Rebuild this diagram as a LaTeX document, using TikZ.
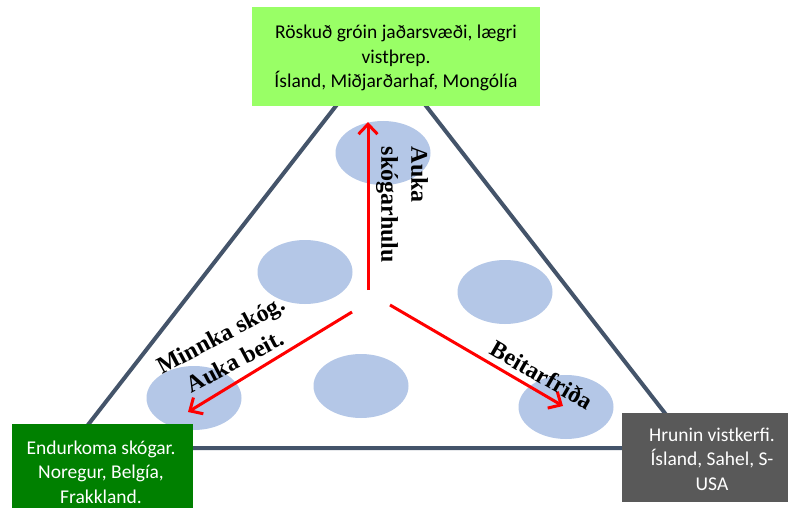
\documentclass[tikz,border=0pt]{standalone}
\usepackage{fontspec}
\setmainfont{Carlito}
\newfontfamily\labfont{Liberation Serif}
\usetikzlibrary{arrows.meta,shapes.geometric}
\definecolor{edgeslate}{HTML}{44546A}
\definecolor{blobblue}{HTML}{B4C7E7}
\definecolor{lightgreen}{HTML}{99FF66}
\definecolor{darkgreen}{HTML}{008000}
\definecolor{darkgray}{HTML}{595959}
\tikzset{
  blob/.style={ellipse, fill=blobblue, draw=none, minimum width=95pt, minimum height=64pt, inner sep=0pt},
  push/.style={red, line width=3pt, -{Straight Barb[length=10pt,width=19pt,line width=3pt]}},
  axislabel/.style={font=\labfont\bfseries\fontsize{24}{30}\selectfont, inner sep=0pt},
  boxtext/.style={font=\fontsize{19.5}{24.5}\selectfont, align=center, inner sep=0pt},
  panel/.style={draw=none, inner sep=0pt, anchor=north west}
}
\begin{document}
\begin{tikzpicture}[x=1pt,y=-1pt]
  \clip (0,0) rectangle (789,508);
  \fill[white] (0,0) rectangle (789,508);

  % triangle frame
  \coordinate (apex) at (381,48);
  \coordinate (bl) at (70,448);
  \coordinate (br) at (692,448);
  \draw[edgeslate, line width=4pt, line join=round] (apex) -- (bl) -- (br) -- cycle;

  % state blobs
  \node[blob] (eTop) at (383,153) {};
  \node[blob] (eLeft) at (305,272) {};
  \node[blob] (eRight) at (505,292) {};
  \node[blob] (eMid) at (361,386) {};
  \node[blob] (eBL) at (194,398) {};
  \node[blob] (eBR) at (566,407) {};

  % driving arrows
  \coordinate (upS) at (368,290);
  \coordinate (upE) at (368,122);
  \coordinate (leftS) at (352,312);
  \coordinate (leftE) at (188,412);
  \coordinate (rightS) at (390,305);
  \coordinate (rightE) at (563,406);
  \draw[push] (upS) -- (upE);
  \draw[push] (leftS) -- (leftE);
  \draw[push] (rightS) -- (rightE);

  % arrow labels
  \node[axislabel, rotate=-90, align=left] (lUp) at (402,205) {Auka\\sk\'ogarhulu};
  \node[axislabel, rotate=28, align=center] (lLeft) at (228,348) {Minnka sk\'og.\\Auka beit.};
  \node[axislabel, rotate=-30] (lRight) at (542,375) {Beitarfri\dh a};

  % corner panels
  \fill[lightgreen] (252,7) rectangle (540,106);
  \node[boxtext] (tTop) at (396,58) {Röskuð gróin jaðarsvæði, lægri\\vistþrep.\\Ísland, Miðjarðarhaf, Mongólía};

  \fill[darkgreen] (12,424) rectangle (193,508);
  \node[boxtext, text=white] (tBL) at (101,472) {Endurkoma skógar.\\Noregur, Belgía,\\Frakkland.};

  \fill[darkgray] (622,413) rectangle (788,502);
  \node[boxtext, text=white] (tBR) at (712,459) {Hrunin vistkerfi.\\Ísland, Sahel, S-\\USA};
\end{tikzpicture}
\end{document}
